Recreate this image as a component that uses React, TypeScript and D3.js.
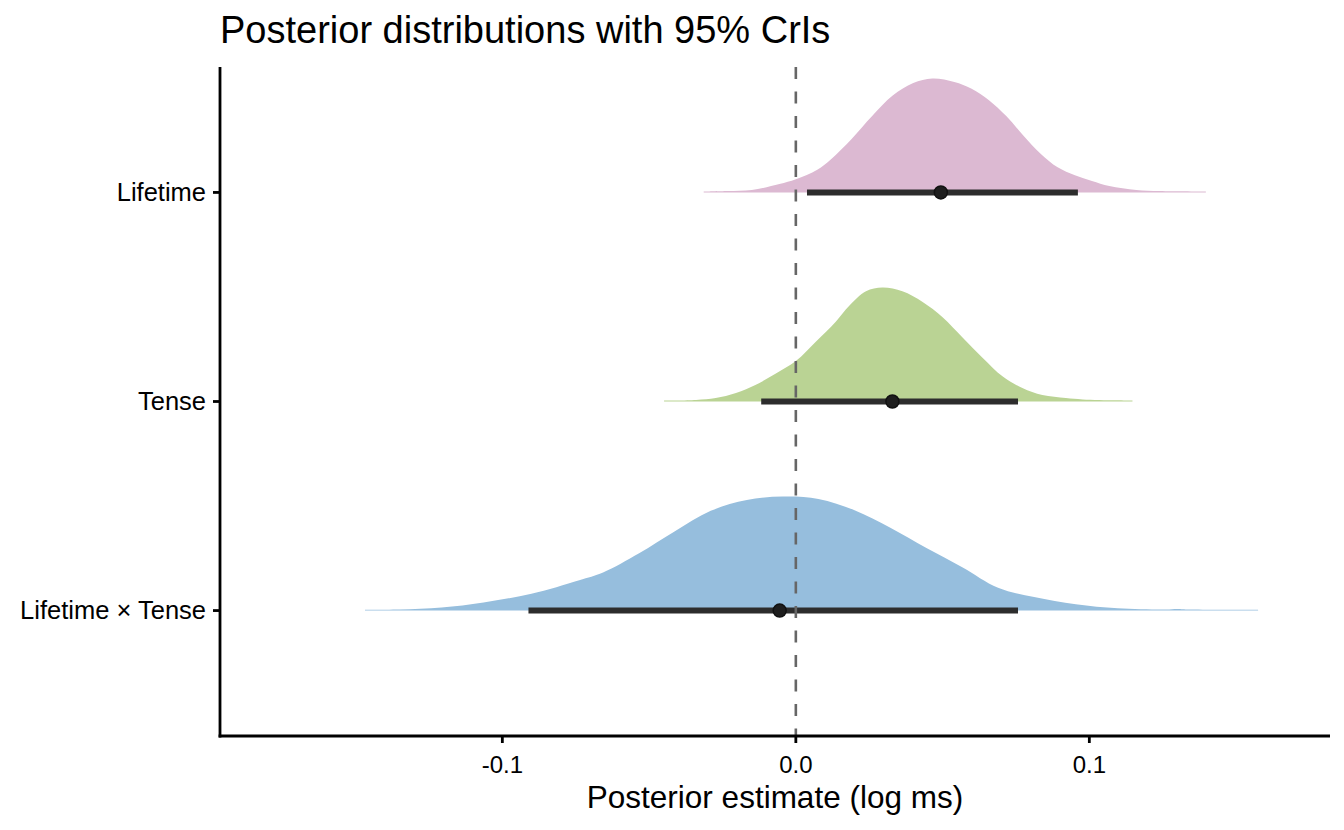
import * as d3 from "d3"

// terms, top to bottom
const terms = ["Lifetime", "Tense", "Lifetime × Tense"]
const slabColors = ["#dcb9d2", "#bad394", "#96bedd"]

// posterior density outlines (x in log ms, height relative to peak)
const lifetimeX = [-0.0314, -0.0232, -0.015, -0.0056, 0, 0.0073, 0.0119, 0.019, 0.026, 0.033, 0.04, 0.0465, 0.054, 0.0599, 0.0658, 0.0717, 0.0775, 0.0834, 0.0892, 0.0951, 0.1009, 0.1068, 0.116, 0.124, 0.1397]
const lifetimeD = [0.008, 0.012, 0.022, 0.074, 0.116, 0.2, 0.29, 0.47, 0.67, 0.85, 0.96, 1.0, 0.97, 0.91, 0.81, 0.67, 0.5, 0.34, 0.22, 0.15, 0.1, 0.056, 0.022, 0.012, 0.008]

const tenseX = [-0.0449, -0.034, -0.0273, -0.0204, -0.0136, -0.0068, 0, 0.0068, 0.0136, 0.0182, 0.0239, 0.0295, 0.0363, 0.0432, 0.05, 0.0568, 0.0636, 0.0704, 0.0772, 0.084, 0.092, 0.0977, 0.109, 0.1147]
const tenseD = [0.008, 0.014, 0.03, 0.074, 0.148, 0.246, 0.355, 0.524, 0.7, 0.84, 0.967, 1.0, 0.967, 0.873, 0.74, 0.562, 0.385, 0.222, 0.118, 0.056, 0.03, 0.018, 0.01, 0.008]

const interX = [-0.1468, -0.135, -0.1207, -0.1064, -0.0901, -0.0738, -0.0657, -0.0534, -0.0412, -0.029, -0.0167, -0.0045, 0.0077, 0.02, 0.0322, 0.0445, 0.0567, 0.0689, 0.0812, 0.0954, 0.1097, 0.126, 0.13, 0.134, 0.1575]
const interD = [0.008, 0.01, 0.027, 0.071, 0.148, 0.267, 0.335, 0.504, 0.697, 0.875, 0.97, 1.0, 0.98, 0.881, 0.727, 0.549, 0.38, 0.2, 0.119, 0.056, 0.02, 0.009, 0.014, 0.009, 0.008]

const densX = [lifetimeX, tenseX, interX]
const densD = [lifetimeD, tenseD, interD]

// medians and 95% CrIs
const medians = [0.0494, 0.0329, -0.0055]
const lower = [0.0038, -0.0118, -0.0911]
const upper = [0.0961, 0.0757, 0.0757]

const xTicks = [-0.1, 0.0, 0.1]
const xTickLabels = ["-0.1", "0.0", "0.1"]

const W = 1344
const H = 830
const panel = { left: 220, right: 1330, top: 67, bottom: 736 }
const font = "'Liberation Sans', Arial, sans-serif"

export default function App() {
  const x = d3.scaleLinear().domain([-0.1962, 0.182]).range([panel.left, panel.right])
  const y = d3.scalePoint<string>().domain(terms).range([panel.top, panel.bottom]).padding(0.6)
  const slabH = y.step() * 0.545

  return (
    <div style={{ position: "fixed", left: 0, top: 0 }}>
      <svg width={W} height={H} style={{ display: "block", background: "#fff" }}>
        {terms.map((t, i) => {
          const base = y(t)!
          const pts = densX[i].map((v, j) => [v, densD[i][j]] as [number, number])
          const area = d3
            .area<[number, number]>()
            .x((d) => x(d[0]))
            .y0(base)
            .y1((d) => Math.min(base, base - d[1] * slabH))
            .curve(d3.curveCatmullRom.alpha(0.5))
          return <path key={t} d={area(pts) ?? ""} fill={slabColors[i]} />
        })}

        {terms.map((t, i) => (
          <g key={t}>
            <line x1={x(lower[i])} x2={x(upper[i])} y1={y(t)!} y2={y(t)!} stroke="#2d2d2d" strokeWidth={6} />
            <circle cx={x(medians[i])} cy={y(t)!} r={6.5} fill="#1e1e1e" stroke="#111" strokeWidth={1.5} />
          </g>
        ))}

        <line
          x1={x(0)}
          x2={x(0)}
          y1={panel.top}
          y2={panel.bottom}
          stroke="#666"
          strokeWidth={2.6}
          strokeDasharray="12 12.5"
        />

        {/* axes */}
        <line x1={panel.left} x2={panel.left} y1={panel.top} y2={panel.bottom + 1.4} stroke="#000" strokeWidth={2.8} />
        <line x1={panel.left - 1.4} x2={panel.right} y1={panel.bottom} y2={panel.bottom} stroke="#000" strokeWidth={2.8} />

        {terms.map((t) => (
          <g key={t}>
            <line x1={panel.left - 7} x2={panel.left} y1={y(t)!} y2={y(t)!} stroke="#000" strokeWidth={2.8} />
            <text x={panel.left - 14} y={y(t)!} dy="0.35em" textAnchor="end" fontFamily={font} fontSize={25.5} fill="#000">
              {t}
            </text>
          </g>
        ))}

        {xTicks.map((v, i) => (
          <g key={v}>
            <line x1={x(v)} x2={x(v)} y1={panel.bottom} y2={panel.bottom + 7} stroke="#000" strokeWidth={2.8} />
            <text x={x(v)} y={773} textAnchor="middle" fontFamily={font} fontSize={24} fill="#000">
              {xTickLabels[i]}
            </text>
          </g>
        ))}

        <text x={(panel.left + panel.right) / 2} y={808} textAnchor="middle" fontFamily={font} fontSize={31.5} fill="#000">
          Posterior estimate (log ms)
        </text>

        <text x={panel.left} y={43} fontFamily={font} fontSize={38} fill="#000">
          Posterior distributions with 95% CrIs
        </text>
      </svg>
    </div>
  )
}
